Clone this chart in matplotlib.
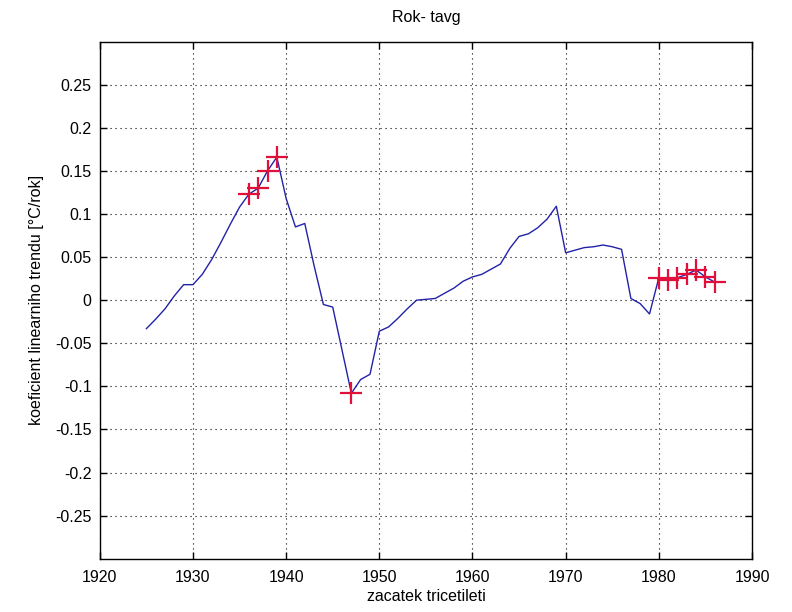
import numpy as np
import matplotlib
matplotlib.use('Agg')
import matplotlib.pyplot as plt

# zacatek tricetileti (start year) and linear trend coefficient [°C/rok]
years = list(range(1925, 1987))
trend = [-0.033, -0.022, -0.010, 0.005, 0.018, 0.018, 0.030, 0.047, 0.067, 0.088,
         0.108, 0.123, 0.130, 0.150, 0.166, 0.118, 0.085, 0.089, 0.040, -0.005,
         -0.008, -0.058, -0.108, -0.092, -0.086, -0.036, -0.031, -0.021, -0.010, 0.000,
         0.001, 0.002, 0.008, 0.014, 0.022, 0.027, 0.030, 0.036, 0.042, 0.060,
         0.074, 0.077, 0.084, 0.094, 0.109, 0.055, 0.058, 0.061, 0.062, 0.064,
         0.062, 0.059, 0.002, -0.004, -0.016, 0.026, 0.024, 0.026, 0.030, 0.035,
         0.027, 0.021]

# years marked as significant
sig_years = [1936, 1937, 1938, 1939, 1947, 1980, 1981, 1982, 1983, 1984, 1985, 1986]
sig_trend = [trend[years.index(y)] for y in sig_years]

xticks = list(range(1920, 1991, 10))
yticks = [-0.25, -0.2, -0.15, -0.1, -0.05, 0, 0.05, 0.1, 0.15, 0.2, 0.25]
yticklabels = ['-0.25', '-0.2', '-0.15', '-0.1', '-0.05', '0', '0.05', '0.1', '0.15', '0.2', '0.25']

plt.rcParams['font.family'] = ['Liberation Sans Narrow', 'Liberation Sans', 'DejaVu Sans']
plt.rcParams['font.size'] = 11.5

fig = plt.figure(figsize=(7.92, 6.12), dpi=100)
ax = fig.add_axes([0.126, 0.087, 0.8235, 0.845])

ax.plot(years, trend, color='#2222a8', lw=1.0)
ax.plot(sig_years, sig_trend, '+', color='#e0103a', ms=16, mew=1.6)

ax.set_xlim(1920, 1990)
ax.set_ylim(-0.3, 0.3)
ax.set_xticks(xticks)
ax.set_yticks(yticks)
ax.set_yticklabels(yticklabels)
ax.tick_params(direction='in', top=True, right=True, length=5, width=1.0)
ax.tick_params(axis='x', pad=8)
ax.tick_params(axis='y', pad=6)
ax.grid(True, color='black', linestyle=(0, (1, 3.5)), lw=0.8)
for s in ax.spines.values():
    s.set_linewidth(1.0)

ax.set_title('Rok- tavg', fontsize=11.5, pad=14)
ax.set_xlabel('zacatek tricetileti', labelpad=3)
ax.set_ylabel('koeficient linearniho trendu [°C/rok]', labelpad=8)

fig.savefig('out.png', dpi=100)
